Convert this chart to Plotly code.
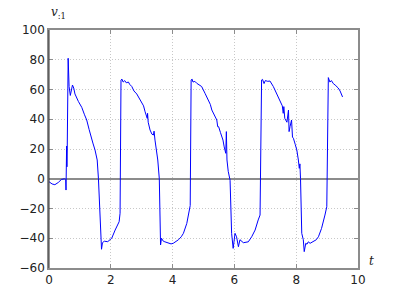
import plotly.graph_objects as go

t = [0.00, 0.10, 0.19, 0.30, 0.40, 0.50, 0.54, 0.55, 0.57, 0.58, 0.59, 0.62, 0.65, 0.69, 0.72, 0.76, 0.80, 0.84,
     0.95, 1.06, 1.15, 1.22, 1.30, 1.33, 1.42, 1.49, 1.56, 1.60, 1.64, 1.67, 1.70, 1.73, 1.79, 1.90, 2.03, 2.14,
     2.27, 2.30, 2.33, 2.36, 2.40, 2.45, 2.50, 2.57, 2.61, 2.68, 2.75, 2.84, 2.92, 3.00, 3.06, 3.11, 3.15, 3.18,
     3.19, 3.21, 3.27, 3.33, 3.38, 3.40, 3.43, 3.48, 3.52, 3.57, 3.61, 3.64, 3.70, 3.75, 3.85, 3.95, 4.02, 4.10,
     4.19, 4.28, 4.35, 4.46, 4.53, 4.57, 4.60, 4.63, 4.66, 4.72, 4.78, 4.85, 4.94, 5.05, 5.10, 5.16, 5.22, 5.27,
     5.35, 5.40, 5.43, 5.46, 5.49, 5.55, 5.59, 5.63, 5.67, 5.72, 5.74, 5.76, 5.80, 5.86, 5.91, 5.96, 6.02, 6.07,
     6.13, 6.18, 6.29, 6.45, 6.56, 6.67, 6.77, 6.83, 6.88, 6.91, 6.96, 7.00, 7.08, 7.15, 7.26, 7.37, 7.48, 7.55,
     7.58, 7.60, 7.63, 7.70, 7.75, 7.77, 7.80, 7.85, 7.88, 7.91, 7.97, 8.02, 8.07, 8.10, 8.12, 8.14, 8.18, 8.23,
     8.26, 8.31, 8.35, 8.39, 8.45, 8.55, 8.65, 8.72, 8.82, 8.93, 8.99, 9.04, 9.09, 9.14, 9.20, 9.26, 9.36, 9.42,
     9.47, 9.50]
v = [-2, -3.5, -4, -2.5, -0.5, 0, -0.5, -7.6, 22, 8, 20, 81, 62, 56, 60, 63, 61, 57,
     52, 48, 43, 39.5, 33, 30.5, 24, 19.3, 12.6, 0, -25, -41, -47.4, -43, -42, -42.3, -40, -34.5,
     -28.9, -23.2, 66.4, 67, 65, 66, 64.5, 65, 63.5, 62, 59, 57, 54, 51.8, 49, 45, 43, 40.6,
     44, 38, 32.8, 30, 29.4, 32, 26, 20, 12.6, 0, -44.5, -40, -42, -42.4, -43, -43.8, -43.4, -42.5,
     -41, -39, -36.7, -30, -21, -18, 66.4, 67, 65, 65.5, 64.2, 63, 62, 57.4, 55, 53, 50, 46.2,
     43, 40, 39.5, 35, 35, 31, 28.3, 26, 21.4, 17.1, 31.7, 12.6, 5, -1, -36.7, -46.8, -36.7, -39,
     -45.7, -41, -43, -42.4, -39, -34.5, -27.7, -24.4, 66.4, 66.8, 64, 66, 65.5, 65.7, 62, 57.4, 51.8, 49,
     44, 48.5, 40.6, 38, 46.2, 31.7, 35, 39.5, 28, 27.2, 23, 19.3, 12.6, 7, 10, 0, -36.7, -41,
     -49, -43.4, -44, -42.4, -43.4, -42.4, -41, -39, -33.4, -24.4, -18.8, 68, 65, 66, 64, 63, 61, 59,
     56.3, 55]

x_ticks = [0, 2, 4, 6, 8, 10]
y_ticks = [-60, -40, -20, 0, 20, 40, 60, 80, 100]

fig = go.Figure()
fig.add_trace(go.Scatter(x=t, y=v, mode="lines", line=dict(color="#0000ff", width=1), showlegend=False))

axis_common = dict(
    showline=True, linecolor="#8c8c8c", linewidth=1.5, mirror="ticks",
    ticks="inside", ticklen=4, tickcolor="#8c8c8c", tickwidth=1,
    showgrid=True, gridcolor="#c8c8c8", griddash="1px,2px", gridwidth=1,
    tickfont=dict(family="DejaVu Sans", size=12, color="#222"),
    automargin=False,
)
fig.update_xaxes(range=[0, 10], tickvals=x_ticks, zeroline=False, **axis_common)
fig.update_yaxes(range=[-60, 100], tickvals=y_ticks, zeroline=True, zerolinecolor="#8c8c8c",
                 zerolinewidth=1.5, **axis_common)

# left spine darker
fig.add_shape(type="line", xref="paper", yref="paper", x0=0, x1=0, y0=0, y1=1,
              line=dict(color="#333", width=1))

fig.add_annotation(text="<i>v</i><sub>:1</sub>", xref="paper", yref="paper", x=0.03, y=1.07,
                   xanchor="center", yanchor="middle", showarrow=False,
                   font=dict(family="DejaVu Serif", size=12, color="#222"))
fig.add_annotation(text="<i>t</i>", xref="paper", yref="paper", x=1.045, y=0.03,
                   xanchor="center", yanchor="middle", showarrow=False,
                   font=dict(family="DejaVu Serif", size=12, color="#222"))

fig.update_layout(width=389, height=289, margin=dict(l=41, r=39, t=22, b=29),
                  plot_bgcolor="white", paper_bgcolor="white")
fig.write_html("out.html")
